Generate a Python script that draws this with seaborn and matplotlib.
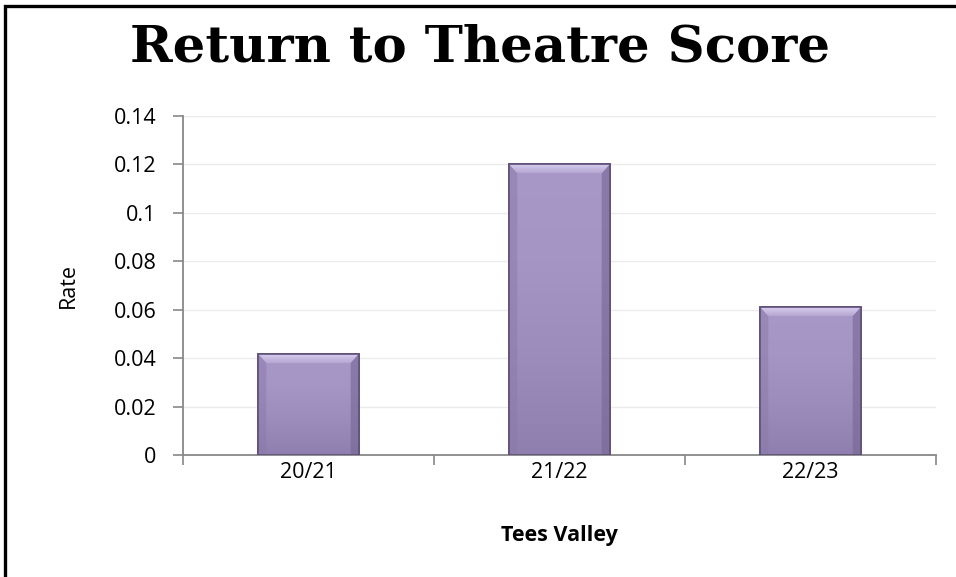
import numpy as np
import pandas as pd
import matplotlib
matplotlib.use("Agg")
import matplotlib.pyplot as plt
from matplotlib.patches import Rectangle, Polygon
import seaborn as sns

# Return to theatre rate by financial year
years = ["20/21", "21/22", "22/23"]
rates = [0.0417, 0.12, 0.061]
y_ticks = [0, 0.02, 0.04, 0.06, 0.08, 0.1, 0.12, 0.14]
y_tick_labels = ["0", "0.02", "0.04", "0.06", "0.08", "0.1", "0.12", "0.14"]

df = pd.DataFrame({"Year": years, "Rate": rates})

sns.set_theme(style="white")
plt.rcParams["font.family"] = ["Open Sans", "DejaVu Sans"]

fig = plt.figure(figsize=(9.56, 5.77), dpi=100)
ax = fig.add_axes([183 / 956, 1 - 455 / 577, (936 - 183) / 956, (455 - 116) / 577])

sns.barplot(data=df, x="Year", y="Rate", ax=ax, color="#a596c4",
            width=0.4, edgecolor="#5e5078", linewidth=1.2, saturation=1, zorder=3)

# shaded body with a bevelled top edge for each bar
shade = np.linspace(0, 1, 256).reshape(-1, 1)
cmap = matplotlib.colors.LinearSegmentedColormap.from_list(
    "bar", ["#8f7fae", "#9c8cbc", "#a595c5", "#a898c8"])
bevel = matplotlib.colors.LinearSegmentedColormap.from_list(
    "bevel", ["#b4a6d2", "#d8cdee"])
px_per_unit = (455 - 116) / 0.14
px_per_cat = (936 - 183) / 3
for p in ax.patches:
    x0, y0 = p.get_x(), p.get_y()
    w, h = p.get_width(), p.get_height()
    im = ax.imshow(shade, extent=[x0, x0 + w, y0, y0 + h], aspect="auto",
                   cmap=cmap, origin="lower", zorder=3.5, interpolation="bilinear")
    im.set_clip_path(p)
    bev_y = 9 / px_per_unit
    bev_x = 8 / px_per_cat
    top = y0 + h
    # top bevel (light gradient), sides (slightly darker)
    top_poly = Polygon([(x0, top), (x0 + w, top), (x0 + w - bev_x, top - bev_y),
                        (x0 + bev_x, top - bev_y)], closed=True,
                       facecolor="none", edgecolor="none", zorder=3.6)
    ax.add_patch(top_poly)
    bim = ax.imshow(shade, extent=[x0, x0 + w, top - bev_y, top], aspect="auto",
                    cmap=bevel, origin="lower", zorder=3.6, interpolation="bilinear")
    bim.set_clip_path(top_poly)
    ax.add_patch(Polygon([(x0, top), (x0 + bev_x, top - bev_y), (x0 + bev_x, y0),
                          (x0, y0)], closed=True,
                         facecolor="#8b7aa8", alpha=0.5, edgecolor="none", zorder=3.6))
    ax.add_patch(Polygon([(x0 + w, top), (x0 + w - bev_x, top - bev_y), (x0 + w - bev_x, y0),
                          (x0 + w, y0)], closed=True,
                         facecolor="#766694", alpha=0.6, edgecolor="none", zorder=3.6))
    ax.add_patch(Rectangle((x0, y0), w, h, facecolor="none", edgecolor="#5e5078",
                           linewidth=1.2, zorder=3.7))

ax.set_xlim(-0.5, len(years) - 0.5)
ax.set_ylim(0, 0.14)
ax.set_yticks(y_ticks)
ax.set_yticklabels(y_tick_labels, fontsize=15.5, color="#000000")
ax.yaxis.grid(True, color="#ebebeb", linewidth=1, zorder=0)
ax.set_axisbelow(True)

# category ticks sit between the bars
ax.set_xticks(range(len(years)))
ax.set_xticklabels(years, fontsize=15.5, color="#000000")
ax.tick_params(axis="x", which="major", length=0, pad=5)
ax.set_xticks([-0.5, 0.5, 1.5, 2.5], minor=True)
ax.tick_params(axis="x", which="minor", length=7, width=1.2, color="#888888", bottom=True)
ax.tick_params(axis="y", length=7, width=1.2, color="#888888", left=True, pad=12)

for side in ["top", "right"]:
    ax.spines[side].set_visible(False)
for side in ["left", "bottom"]:
    ax.spines[side].set_color("#888888")
    ax.spines[side].set_linewidth(1.3)

ax.set_ylabel("Rate", fontsize=15.5, labelpad=25, color="black")
ax.set_xlabel("Tees Valley", fontsize=15.5, fontweight="bold", labelpad=30, color="black")

fig.text(0.502, 1 - 48 / 577, "Return to Theatre Score", ha="center", va="center",
         fontsize=37, fontweight="bold", color="black",
         family=["DejaVu Serif", "Liberation Serif"])

# outer chart frame (right and bottom edges run past the canvas)
fig.add_artist(Rectangle((5 / 956, -0.2), 1.5, (1 - 6 / 577) + 0.2, transform=fig.transFigure,
                         facecolor="none", edgecolor="black", linewidth=2.4))

fig.savefig("out.png", dpi=100)
